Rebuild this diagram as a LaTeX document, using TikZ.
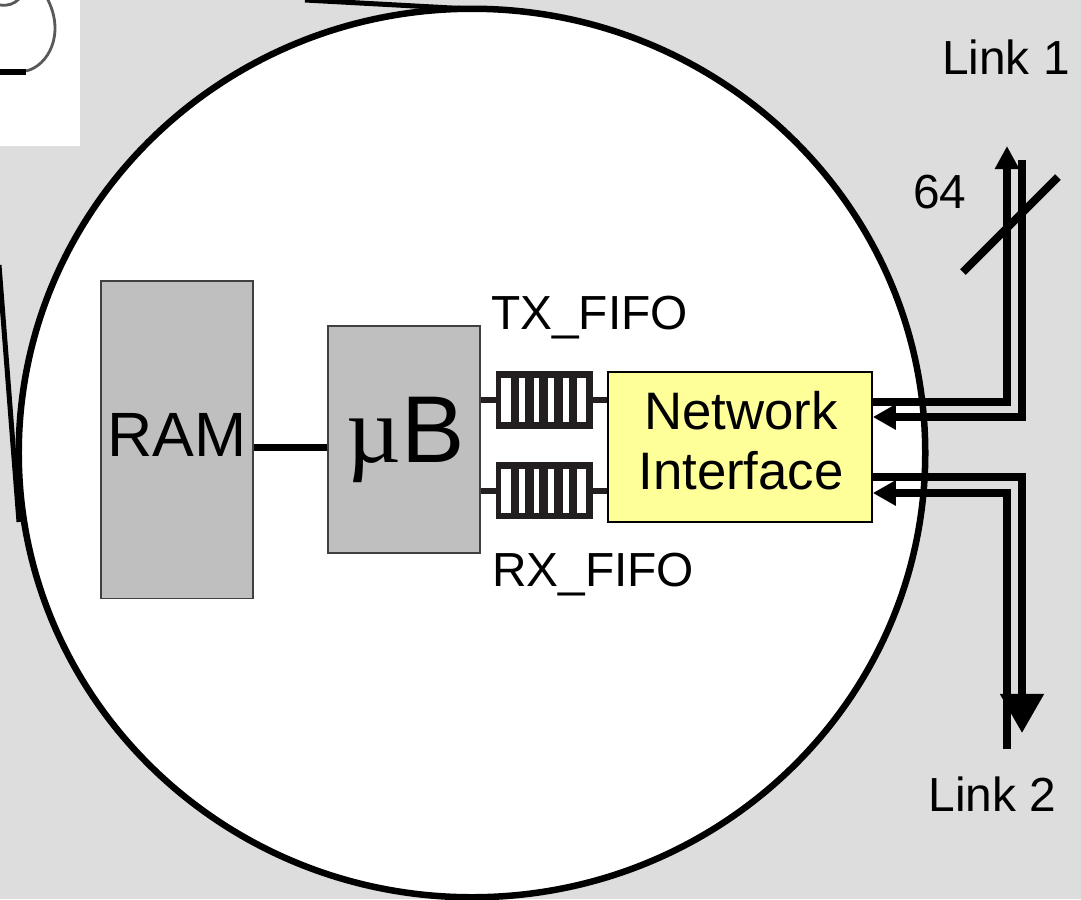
\documentclass[tikz,border=0pt]{standalone}
\usepackage{fontspec}
\setmainfont{Liberation Sans}
\newfontfamily\mufont{Liberation Serif}
\usepackage{tikz}
\usetikzlibrary{calc,arrows.meta}

\definecolor{bggray}{HTML}{DDDDDD}
\definecolor{boxgray}{HTML}{BFBFBF}
\definecolor{niyellow}{HTML}{FFFF99}
\definecolor{fifodark}{HTML}{231F20}

\tikzset{
  blockbox/.style={draw=black!75,line width=0.012cm,fill=boxgray,inner sep=0pt},
  nibox/.style={draw=black,line width=0.015cm,fill=niyellow,inner sep=0pt},
  fifobox/.style={fill=fifodark,minimum width=0.97cm,minimum height=0.57cm,inner sep=0pt},
  txtlabel/.style={inner sep=0pt,anchor=base,font=\fontsize{13.6}{15}\selectfont},
  linkline/.style={line width=0.08cm},
  fifoline/.style={line width=0.06cm,draw=fifodark}
}

\begin{document}
\begin{tikzpicture}[x=0.01cm,y=-0.01cm]
\useasboundingbox (0,0) rectangle (1081,899);
\clip (0,0) rectangle (1081,899);
\fill[bggray] (0,0) rectangle (1081,899);

% Corner of the outer drawing
\fill[white] (0,0) rectangle (80,146);
\draw[line width=0.028cm,black!65] (26,71) .. controls (48,66) and (66,34) .. (47,-2);
\draw[line width=0.028cm,black!65] (0,5) .. controls (8,6) and (14,4) .. (19,-1);
\draw[line width=0.06cm] (0,72) -- (26,72);

% Zoomed tile
\draw[line width=0.05cm] (305,0) -- (470,9);
\draw[line width=0.05cm] (-1,265) -- (19,522);
\draw[line width=0.065cm,fill=white] (472,453) ellipse [x radius=4.53cm, y radius=4.44cm];

% Blocks
\foreach \pos/\name/\wid/\hgt in {{(177,439.5)/ram/1.52cm/3.17cm}, {(404,439.5)/ub/1.52cm/2.27cm}}
\node[blockbox,minimum width=\wid,minimum height=\hgt] (\name) at \pos {};
\node[nibox,minimum width=2.64cm,minimum height=1.50cm] (ni) at (740,447) {};

% FIFOs
\foreach \pos/\name in {{(544.5,400)/txfifo}, {(544.5,490.5)/rxfifo}}
\node[fifobox] (\name) at \pos {};

% Connect blocks
\draw[line width=0.07cm] (ram.east |- 0,447) -- (ub.west |- 0,447);
\foreach \source/\dest in {ub/txfifo, ub/rxfifo}
\draw[fifoline] (\source.east |- \dest) -- (\dest.center);
\foreach \source/\dest in {txfifo/ni, rxfifo/ni}
\draw[fifoline] (\source.center) -- (\dest.west |- \source);
\foreach \name in {txfifo, rxfifo}
\foreach \from/\to in {6/16, 24/30, 39/44, 53/59, 68/74, 82/91}
\fill[white] ($(\name.west)+(\from,-22)$) rectangle ($(\name.west)+(\to,22)$);

% Links
\coordinate (txbend) at (1007,402);
\coordinate (txtop) at (1007,146);
\coordinate (inbend) at (1022,417);
\coordinate (intop) at (1022,160);
\coordinate (outbend) at (1022,477);
\coordinate (outend) at (1022,733);
\coordinate (rxbend) at (1007,493);
\coordinate (rxend) at (1007,749);
\draw[linkline,-{Triangle[length=0.23cm,width=0.23cm]}] (ni.east |- txbend) -- (txbend) -- (txtop);
\draw[linkline,-{Triangle[length=0.23cm,width=0.24cm]}] (intop) -- (inbend) -- (ni.east |- inbend);
\draw[linkline,-{Triangle[length=0.39cm,width=0.42cm]}] (ni.east |- outbend) -- (outbend) -- (outend);
\draw[linkline,-{Triangle[length=0.23cm,width=0.24cm]}] (rxend) -- (rxbend) -- (ni.east |- rxbend);
\draw[linkline] (963,272) -- (1058,177);

% Labels
\node[txtlabel,font=\fontsize{17.8}{20}\selectfont] (ramlabel) at (177,456) {RAM};
\node[txtlabel,font=\fontsize{27}{30}\selectfont] (ublabel) at (406,462) {{\mufont µ}B};
\node[inner sep=0pt,align=center,font=\fontsize{15}{17}\selectfont] (nilabel) at (741,441) {Network\\Interface};
\foreach \pos/\name/\disp in {{(1006,74)/linka/Link 1}, {(992.5,811)/linkb/Link 2}, {(940,208)/width/64}, {(589.5,329)/txlabel/TX\_FIFO}, {(593,586)/rxlabel/RX\_FIFO}}
\node[txtlabel] (\name) at \pos {\disp};

\end{tikzpicture}
\end{document}
